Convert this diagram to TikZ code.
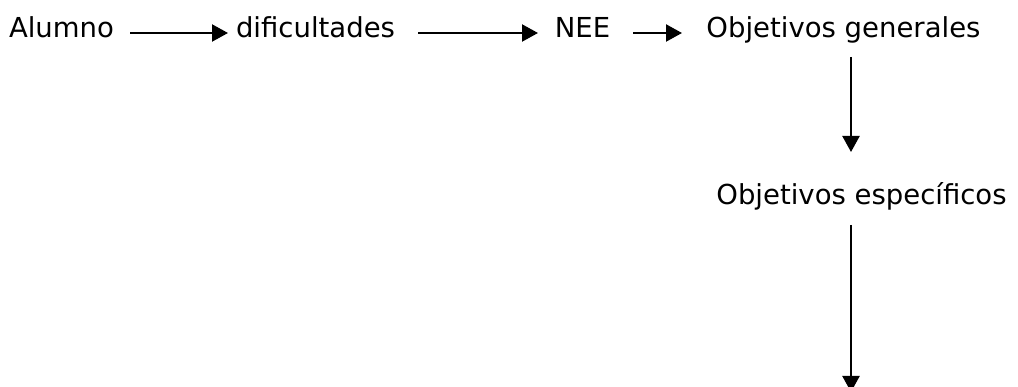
\documentclass[tikz,border=0pt]{standalone}
\usepackage{fontspec}
\setmainfont{DejaVu Sans}
\usetikzlibrary{arrows.meta}
\tikzset{
  paso/.style={inner sep=0pt,anchor=base},
  flecha/.style={-{Triangle[length=16pt,width=17pt]},line width=2.2pt}
}
\begin{document}
\begin{tikzpicture}[x=1pt,y=-1pt,font=\fontsize{27.5}{32}\selectfont]
\useasboundingbox (0,0) rectangle (1018,387);
\node[paso] (alumno) at (61.5,37.7) {Alumno};
\node[paso] (dific) at (315.5,37.7) {dificultades};
\node[paso] (nee) at (582.5,37.7) {NEE};
\node[paso] (gen) at (843.5,37.7) {Objetivos generales};
\node[paso] (esp) at (861.5,205) {Objetivos específicos};
\coordinate (fin) at (851,392);

\draw[flecha]([xshift=68.5pt,yshift=4.7pt]alumno.base)--([xshift=-87.5pt,yshift=4.7pt]dific.base);
\draw[flecha]([xshift=102.5pt,yshift=4.7pt]dific.base)--([xshift=-44.5pt,yshift=4.7pt]nee.base);
\draw[flecha]([xshift=50.5pt,yshift=4.7pt]nee.base)--([xshift=-161.5pt,yshift=4.7pt]gen.base);

\draw[flecha]([xshift=7.5pt,yshift=-19.3pt]gen.base)--([xshift=-10.5pt,yshift=53pt]esp.base);
\draw[flecha]([xshift=-10.5pt,yshift=-20pt]esp.base)--(fin);
\end{tikzpicture}
\end{document}
